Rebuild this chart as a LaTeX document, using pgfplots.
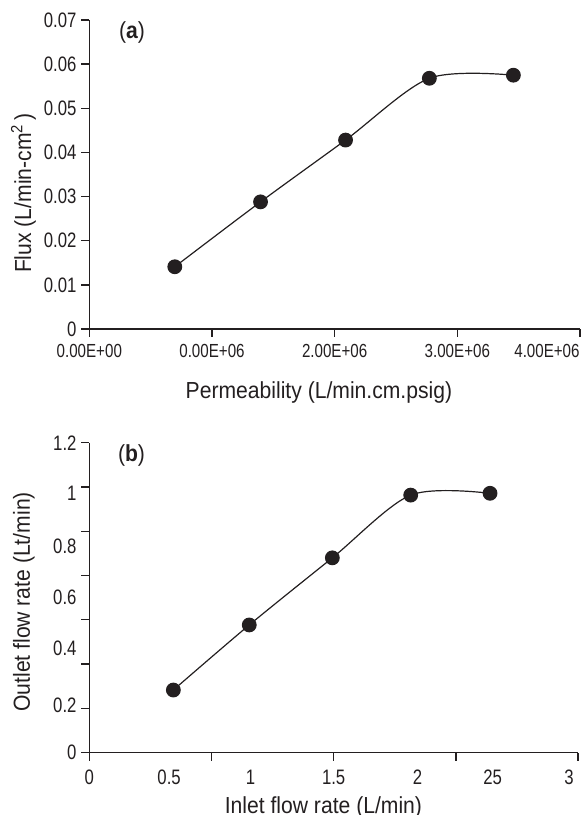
\documentclass[border=0pt]{standalone}
\usepackage{pgfplots}
\pgfplotsset{compat=1.18}
\usepackage{fontspec}
\setmainfont{Liberation Sans}
\newfontfamily\lblfont[FakeStretch=0.91]{Liberation Sans}
\newfontfamily\tickfont[FakeStretch=0.8]{Liberation Sans}
\definecolor{ink}{RGB}{35,31,32}

\pgfplotsset{
  panel/.style={
    anchor=south west, scale only axis, clip=false,
    scaled x ticks=false, scaled y ticks=false,
    axis x line*=bottom, axis y line*=left,
    axis line style={draw=ink, line width=0.7bp, -},
    tick style={draw=ink, line width=0.7bp},
    tick align=outside,
    major tick length=4bp,
    xticklabel style={font=\tickfont\fontsize{9.5}{11}\selectfont, text=ink, inner sep=0pt, yshift=-3.5bp},
    yticklabel style={font=\tickfont\fontsize{10.5}{12}\selectfont, text=ink, inner sep=0pt, xshift=-2.2bp},
    label style={font=\lblfont\fontsize{11.65}{14}\selectfont, text=ink},
  },
  curve/.style={ink, line width=0.6bp, smooth, mark=*, mark size=3.4bp,
    mark options={fill=ink, draw=ink}},
}

\begin{document}
\begin{tikzpicture}
\path[use as bounding box] (0,0) rectangle (291.5bp,407.5bp);

% ---------- panel (a)
\begin{axis}[panel,
  at={(44.65bp,243bp)}, width=245.35bp, height=154.5bp,
  xmin=0, xmax=4, ymin=0, ymax=0.07,
  xtick={0,1,2,3,4},
  xticklabels={0.00E+00,0.00E+06,2.00E+06,3.00E+06,{}},
  extra x ticks={4}, extra x tick labels={4.00E+06},
  extra x tick style={major tick style={draw=none}, xticklabel style={anchor=north east}},
  ytick={0,0.01,0.02,0.03,0.04,0.05,0.06,0.07},
  yticklabels={0,0.01,0.02,0.03,0.04,0.05,0.06,0.07},
  xlabel={Permeability (L/min.cm.psig)},
  ylabel={Flux (L/min-cm\textsuperscript{2}\,)},
  xlabel style={at={(axis description cs:0.468,-0.204)}, anchor=center},
  ylabel style={at={(axis description cs:-0.134,0.44)}, anchor=center},
]
\addplot[curve] coordinates {
  (0.697,0.0141) (1.396,0.0288) (2.089,0.0428) (2.772,0.0568) (3.457,0.0575)
};
\node[font=\lblfont\fontsize{11.65}{14}\selectfont, text=ink] at (axis description cs:0.087,0.958) {(\textbf{a})};
\end{axis}

% ---------- panel (b)
\begin{axis}[panel,
  at={(44.65bp,31.25bp)}, width=244.35bp, height=154.9bp,
  xmin=0, xmax=3, ymin=0, ymax=1.2,
  xtick={0,0.75,1.5,2.25,3}, xticklabels={},
  extra x ticks={0,0.49,0.99,1.5,2.015,2.476,2.945},
  extra x tick labels={0,0.5,1,1.5,2,25,3},
  ytick={0,0.171429,0.342857,0.514286,0.685714,0.857143,1.028571,1.2}, yticklabels={},
  extra y ticks={0,0.183,0.403,0.603,0.797,1.004,1.2},
  extra y tick labels={0,0.2,0.4,0.6,0.8,1,1.2},
  extra tick style={major tick style={draw=none}},
  xticklabel style={font=\tickfont\fontsize{10.5}{12}\selectfont, yshift=-1bp},
  xlabel={Inlet flow rate (L/min)},
  ylabel={Outlet flow rate (Lt/min)},
  xlabel style={at={(axis description cs:0.479,-0.176)}, anchor=center},
  ylabel style={at={(axis description cs:-0.134,0.486)}, anchor=center},
]
\addplot[curve] coordinates {
  (0.516,0.242) (0.982,0.494) (1.492,0.754) (1.973,0.997) (2.460,1.004)
};
\node[font=\lblfont\fontsize{11.65}{14}\selectfont, text=ink] at (axis description cs:0.0864,0.958) {(\textbf{b})};
\end{axis}
\end{tikzpicture}
\end{document}
